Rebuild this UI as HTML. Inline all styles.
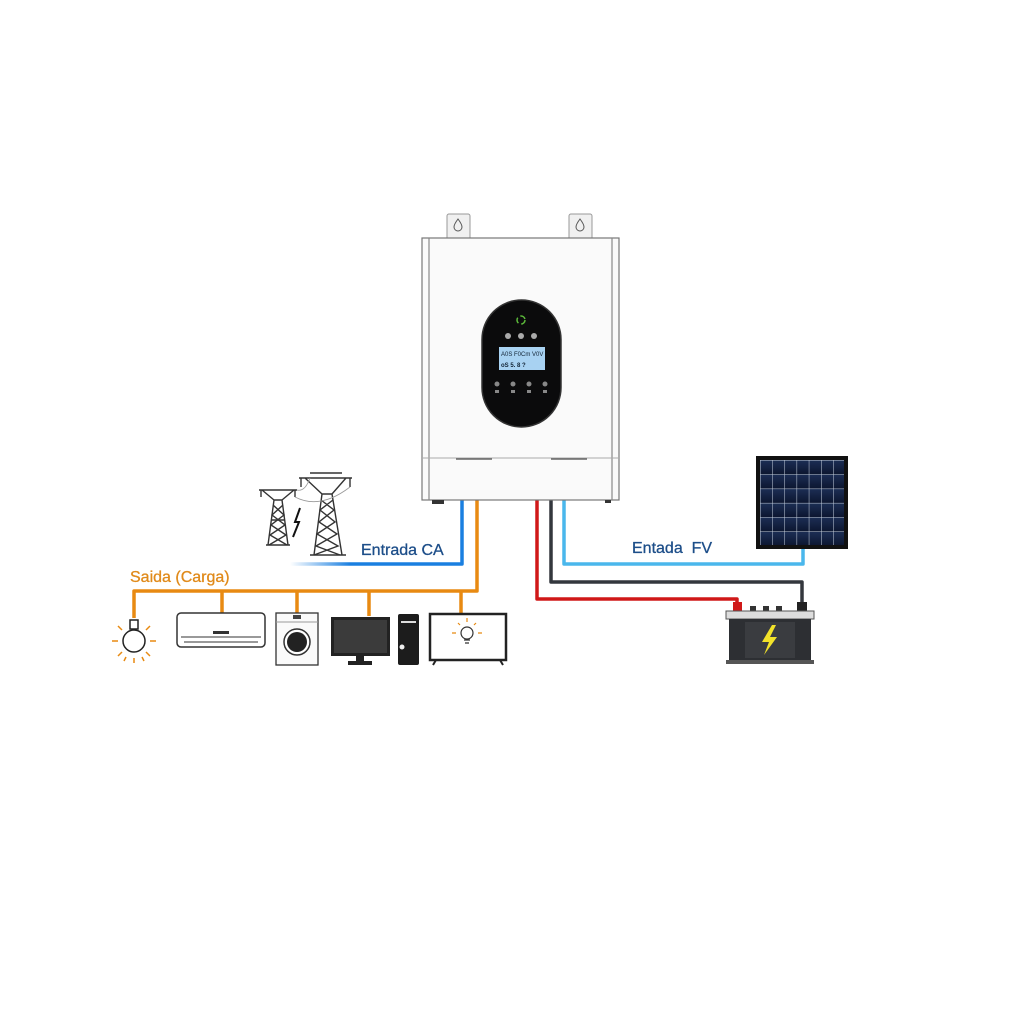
<!DOCTYPE html>
<html><head><meta charset="utf-8"><style>
html,body{margin:0;padding:0;background:#fff;}
svg{display:block;}
text{font-family:"Liberation Sans",sans-serif;}
</style></head><body>
<svg width="1024" height="1024" viewBox="0 0 1024 1024" xmlns="http://www.w3.org/2000/svg">
<defs>
<linearGradient id="caf" x1="0" x2="1"><stop offset="0" stop-color="#1a7fe0" stop-opacity="0"/><stop offset="0.35" stop-color="#1a7fe0"/><stop offset="1" stop-color="#1a7fe0"/></linearGradient>
<linearGradient id="sp" x1="0" y1="0" x2="0" y2="1"><stop offset="0" stop-color="#1c2e55"/><stop offset="1" stop-color="#0c1630"/></linearGradient>
<pattern id="grid" x="760" y="460" width="12.2" height="14.3" patternUnits="userSpaceOnUse"><rect width="12.2" height="14.3" fill="url(#sp)"/><path d="M0 0H12.2M0 0V14.3" stroke="#c8d2e0" stroke-width="1"/></pattern>
</defs>
<rect width="1024" height="1024" fill="#fff"/>
<g fill="none" stroke-width="3.5" stroke-linejoin="round">
<polyline points="462,500 462,564 290,564" stroke="url(#caf)"/>
<polyline points="477,500 477,591 134,591 134,618" stroke="#e88a12"/>
<path d="M222 591V613M297 591V613M369 591V616M461 591V613" stroke="#e88a12"/>
<polyline points="564,500 564,564 803,564 803,548" stroke="#4ab7ec"/>
<polyline points="551,500 551,582 802,582 802,605" stroke="#33373d"/>
<polyline points="537,500 537,599 737,599 737,606" stroke="#d01818"/>
</g>
<rect x="447" y="214" width="23" height="26" rx="2" fill="#f0f0f0" stroke="#999"/>
<rect x="569" y="214" width="23" height="26" rx="2" fill="#f0f0f0" stroke="#999"/>
<path d="M458 219c-3 4-4 6-4 8a4 4 0 0 0 8 0c0-2-1-4-4-8z" fill="none" stroke="#555"/>
<path d="M580 219c-3 4-4 6-4 8a4 4 0 0 0 8 0c0-2-1-4-4-8z" fill="none" stroke="#555"/>
<rect x="422" y="238" width="197" height="262" fill="#fafafa" stroke="#777" stroke-width="1.2"/>
<path d="M429 238V500M612 238V500" stroke="#888" stroke-width="1.2"/>
<path d="M422 458H619" stroke="#aaa"/>
<path d="M456 459H492M551 459H587" stroke="#666" stroke-width="1.5"/>
<rect x="432" y="500" width="12" height="4" fill="#333"/>
<rect x="605" y="500" width="6" height="3" fill="#333"/>
<rect x="482" y="300" width="79" height="127" rx="39.5" fill="#0b0b0c" stroke="#333" stroke-width="1.5"/>
<circle cx="521" cy="320" r="4" fill="none" stroke="#5bb83a" stroke-width="1.5" stroke-dasharray="6 3"/>
<g fill="#aaa"><circle cx="508" cy="336" r="3"/><circle cx="521" cy="336" r="3"/><circle cx="534" cy="336" r="3"/></g>
<rect x="499" y="347" width="46" height="23" fill="#a8d2f2"/>
<text x="501" y="356" font-size="6" fill="#123">A0S  F0Cm V0V</text>
<text x="501" y="367" font-size="6" fill="#123" font-weight="bold">oS  5.  8 ?</text>
<g fill="#888"><circle cx="497" cy="384" r="2.5"/><circle cx="513" cy="384" r="2.5"/><circle cx="529" cy="384" r="2.5"/><circle cx="545" cy="384" r="2.5"/>
<rect x="495" y="390" width="4" height="3"/><rect x="511" y="390" width="4" height="3"/><rect x="527" y="390" width="4" height="3"/><rect x="543" y="390" width="4" height="3"/></g>
<g fill="none" stroke="#333" stroke-width="1.4">
<path d="M268 545L274 500H282L288 545M271 520H285M259 490H297M262 490L274 500M294 490L282 500M261 490V497M295 490V497M266 545H290"/>
<path d="M273 505L284 515L271 525L286 535L269 545M283 505L272 515L285 525L270 535L287 545"/>
<path d="M314 555L322 494H332L342 555M299 478H352M305 478L322 494M346 478L332 494M310 473H342M301 478V487M350 478V487M310 555H346"/>
<path d="M321 500L334 510L319 522L337 534L316 546L340 555M333 500L320 510L335 522L317 534L338 546L314 555"/>
<path d="M297 490Q305 492 310 478M295 497Q320 510 350 487" stroke="#999" stroke-width="0.8"/>
<path d="M300 508L295 522L299 522L293 537" stroke="#111" stroke-width="2"/>
</g>
<text x="361" y="555" font-size="16" fill="#1d4e89" stroke="#1d4e89" stroke-width="0.3">Entrada CA</text>
<text x="130" y="582" font-size="16" fill="#e08a1a" stroke="#e08a1a" stroke-width="0.3">Saida (Carga)</text>
<text x="632" y="553" font-size="16" fill="#1d4e89" stroke="#1d4e89" stroke-width="0.3" xml:space="preserve">Entada  FV</text>
<g stroke="#e88a12" stroke-width="1.5" fill="none">
<circle cx="134" cy="641" r="11" stroke="#222"/><rect x="130" y="620" width="8" height="9" stroke="#222"/>
<path d="M112 641h6M150 641h6M118 626l4 4M150 626l-4 4M118 656l4-4M150 656l-4-4M134 658v5M126 657l-2 4M142 657l2 4"/>
</g>
<rect x="177" y="613" width="88" height="34" rx="4" fill="#fff" stroke="#333" stroke-width="1.5"/>
<path d="M181 637H261M184 642H258" stroke="#333"/><rect x="213" y="631" width="16" height="3" fill="#333"/>
<rect x="276" y="613" width="42" height="52" fill="#fafafa" stroke="#333" stroke-width="1.3"/>
<path d="M276 622H318" stroke="#999"/><rect x="293" y="615" width="8" height="4" fill="#444"/>
<circle cx="297" cy="642" r="13" fill="#fff" stroke="#333" stroke-width="1.5"/><circle cx="297" cy="642" r="10" fill="#222"/>
<rect x="331" y="617" width="59" height="39" fill="#222"/><rect x="334" y="620" width="53" height="33" fill="#3b3b3b"/>
<rect x="356" y="656" width="8" height="6" fill="#222"/><rect x="348" y="661" width="24" height="4" fill="#222"/>
<rect x="398" y="614" width="21" height="51" rx="2" fill="#1c1c1c"/>
<rect x="401" y="621" width="15" height="2" fill="#ddd"/><circle cx="402" cy="647" r="2.5" fill="#eee"/>
<rect x="430" y="614" width="76" height="46" fill="#fff" stroke="#222" stroke-width="2.5"/>
<path d="M436 660l-3 5M500 660l3 5" stroke="#222" stroke-width="2"/>
<g stroke="#e88a12" fill="none" stroke-width="1.2"><circle cx="467" cy="633" r="6" stroke="#333"/><path d="M464 640h6M465 643h4" stroke="#333"/><path d="M456 633h-4M478 633h4M460 625l-2-2M474 625l2-2M467 622v-4"/></g>
<rect x="756" y="456" width="92" height="93" fill="#111"/>
<rect x="760" y="460" width="84" height="85" fill="url(#grid)"/>
<rect x="733" y="602" width="9" height="10" fill="#d01818"/><rect x="797" y="602" width="10" height="10" fill="#222"/>
<rect x="750" y="606" width="6" height="5" fill="#333"/><rect x="763" y="606" width="6" height="5" fill="#333"/><rect x="776" y="606" width="6" height="5" fill="#333"/>
<rect x="726" y="611" width="88" height="8" fill="#ddd" stroke="#555"/>
<rect x="729" y="619" width="82" height="42" fill="#2d2f33"/>
<rect x="745" y="622" width="50" height="36" fill="#3a3c40"/>
<rect x="726" y="660" width="88" height="4" fill="#555"/>
<path d="M772 625L762 642H769L764 655L777 637H770L776 625Z" fill="#f2e22a"/>
</svg>
</body></html>
